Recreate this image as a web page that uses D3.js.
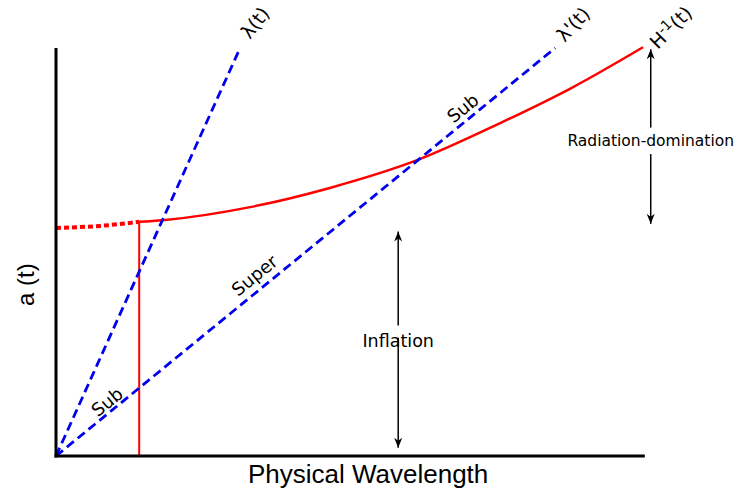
<!DOCTYPE html>
<html>
<head>
<meta charset="utf-8">
<script src="https://cdn.jsdelivr.net/npm/d3@7"></script>
<style>
  body { margin: 0; background: #fff; }
  text { font-family: "DejaVu Sans", sans-serif; }
</style>
</head>
<body>
<div id="chart"></div>
<script>
// Hubble radius curve H^-1(t) (wavelength, scale factor)
const hubbleX = [0, 0.75, 1.41, 1.81, 3.29, 4.64, 6.12, 7.53, 8.71, 9.95];
const hubbleY = [5.59, 5.64, 5.74, 5.78, 6.10, 6.57, 7.25, 8.16, 9.00, 10.02];
const hubbleSplit = 1.41; // dotted before, solid after

// Two physical wavelengths, straight lines from the origin
const waveNames = ["λ(t)", "λ'(t)"];
const waveEndX = [3.12, 8.46];
const waveEndY = [10.0, 10.0];

const width = 735, height = 488;

const x = d3.scaleLinear().domain([0, 10]).range([56, 646]);
const y = d3.scaleLinear().domain([0, 10]).range([456, 48]);

const svg = d3.select("#chart").append("svg")
  .attr("width", width)
  .attr("height", height);

svg.append("defs").append("marker")
  .attr("id", "arrow")
  .attr("viewBox", "0 0 10 10")
  .attr("refX", 10).attr("refY", 5)
  .attr("markerWidth", 10).attr("markerHeight", 10)
  .attr("markerUnits", "userSpaceOnUse")
  .attr("orient", "auto-start-reverse")
  .append("path")
  .attr("d", "M0,1 L10,5 L0,9 L3,5 Z")
  .attr("fill", "#000");

const line = d3.line().x(d => x(d[0])).y(d => y(d[1])).curve(d3.curveMonotoneX);
const pts = hubbleX.map((v, i) => [v, hubbleY[i]]);

// dotted early part
svg.append("path")
  .attr("d", line(pts.filter(p => p[0] <= hubbleSplit)))
  .attr("fill", "none").attr("stroke", "#ff0000")
  .attr("stroke-width", 4).attr("stroke-dasharray", "5,3");

// solid part
svg.append("path")
  .attr("d", line(pts.filter(p => p[0] >= hubbleSplit)))
  .attr("fill", "none").attr("stroke", "#ff0000")
  .attr("stroke-width", 2.5);

// red vertical at horizon crossing
svg.append("line")
  .attr("x1", x(hubbleSplit)).attr("x2", x(hubbleSplit))
  .attr("y1", y(0)).attr("y2", y(hubbleY[2]))
  .attr("stroke", "#ff0000").attr("stroke-width", 2);

// blue dashed wavelengths
waveEndX.forEach((ex, i) => {
  svg.append("line")
    .attr("x1", x(0)).attr("y1", y(0))
    .attr("x2", x(ex)).attr("y2", y(waveEndY[i]))
    .attr("stroke", "#0000ee").attr("stroke-width", 2.8)
    .attr("stroke-dasharray", "9,5");
});

// axes
svg.append("line")
  .attr("x1", x(0)).attr("x2", x(0)).attr("y1", y(0) + 1.5).attr("y2", y(10))
  .attr("stroke", "#000").attr("stroke-width", 3);
svg.append("line")
  .attr("x1", x(0) - 1.5).attr("x2", x(9.98)).attr("y1", y(0)).attr("y2", y(0))
  .attr("stroke", "#000").attr("stroke-width", 3);

svg.append("text")
  .attr("x", x(5.29)).attr("y", 483)
  .attr("text-anchor", "middle")
  .style("font-family", "'Liberation Sans', Arial, sans-serif")
  .style("font-size", "26px")
  .text("Physical Wavelength");

svg.append("text")
  .attr("transform", "translate(34," + y(4.2) + ") rotate(-90)")
  .attr("text-anchor", "middle")
  .style("font-family", "'Liberation Sans', Arial, sans-serif")
  .style("font-size", "24px")
  .text("a (t)");

// rotated labels
function label(txt, lx, ly, angle, size) {
  svg.append("text")
    .attr("transform", "translate(" + x(lx) + "," + y(ly) + ") rotate(" + angle + ")")
    .attr("text-anchor", "middle")
    .attr("dominant-baseline", "middle")
    .style("font-size", size + "px")
    .text(txt);
}
label(waveNames[0], 3.39, 10.6, -52, 19);
label(waveNames[1], 8.78, 10.56, -47, 19);
svg.append("text")
  .attr("transform", "translate(" + x(10.2) + "," + y(9.95) + ") rotate(-45)")
  .style("font-size", "19px")
  .html("H<tspan dy='-7' font-size='14'>-1</tspan><tspan dy='7'>(t)</tspan>");
label("Sub", 0.88, 1.3, -39, 18);
label("Super", 3.38, 4.4, -39, 18);
label("Sub", 6.91, 8.5, -39, 18);

// arrows
function arrow(ax, y0, y1, gap0, gap1, txt, ty, size) {
  svg.append("line")
    .attr("x1", x(ax)).attr("x2", x(ax)).attr("y1", y(gap1)).attr("y2", y(y1))
    .attr("stroke", "#000").attr("stroke-width", 1.5)
    .attr("marker-end", "url(#arrow)");
  svg.append("line")
    .attr("x1", x(ax)).attr("x2", x(ax)).attr("y1", y(gap0)).attr("y2", y(y0))
    .attr("stroke", "#000").attr("stroke-width", 1.5)
    .attr("marker-end", "url(#arrow)");
  svg.append("text")
    .attr("x", x(ax)).attr("y", y(ty))
    .attr("text-anchor", "middle").attr("dominant-baseline", "middle")
    .style("font-size", size + "px")
    .text(txt);
}
arrow(5.8, 0.2, 5.5, 2.9, 3.2, "Inflation", 2.79, 17.5);
arrow(10.08, 5.69, 9.97, 7.4, 8.05, "Radiation-domination", 7.72, 15.5);
</script>
</body>
</html>
